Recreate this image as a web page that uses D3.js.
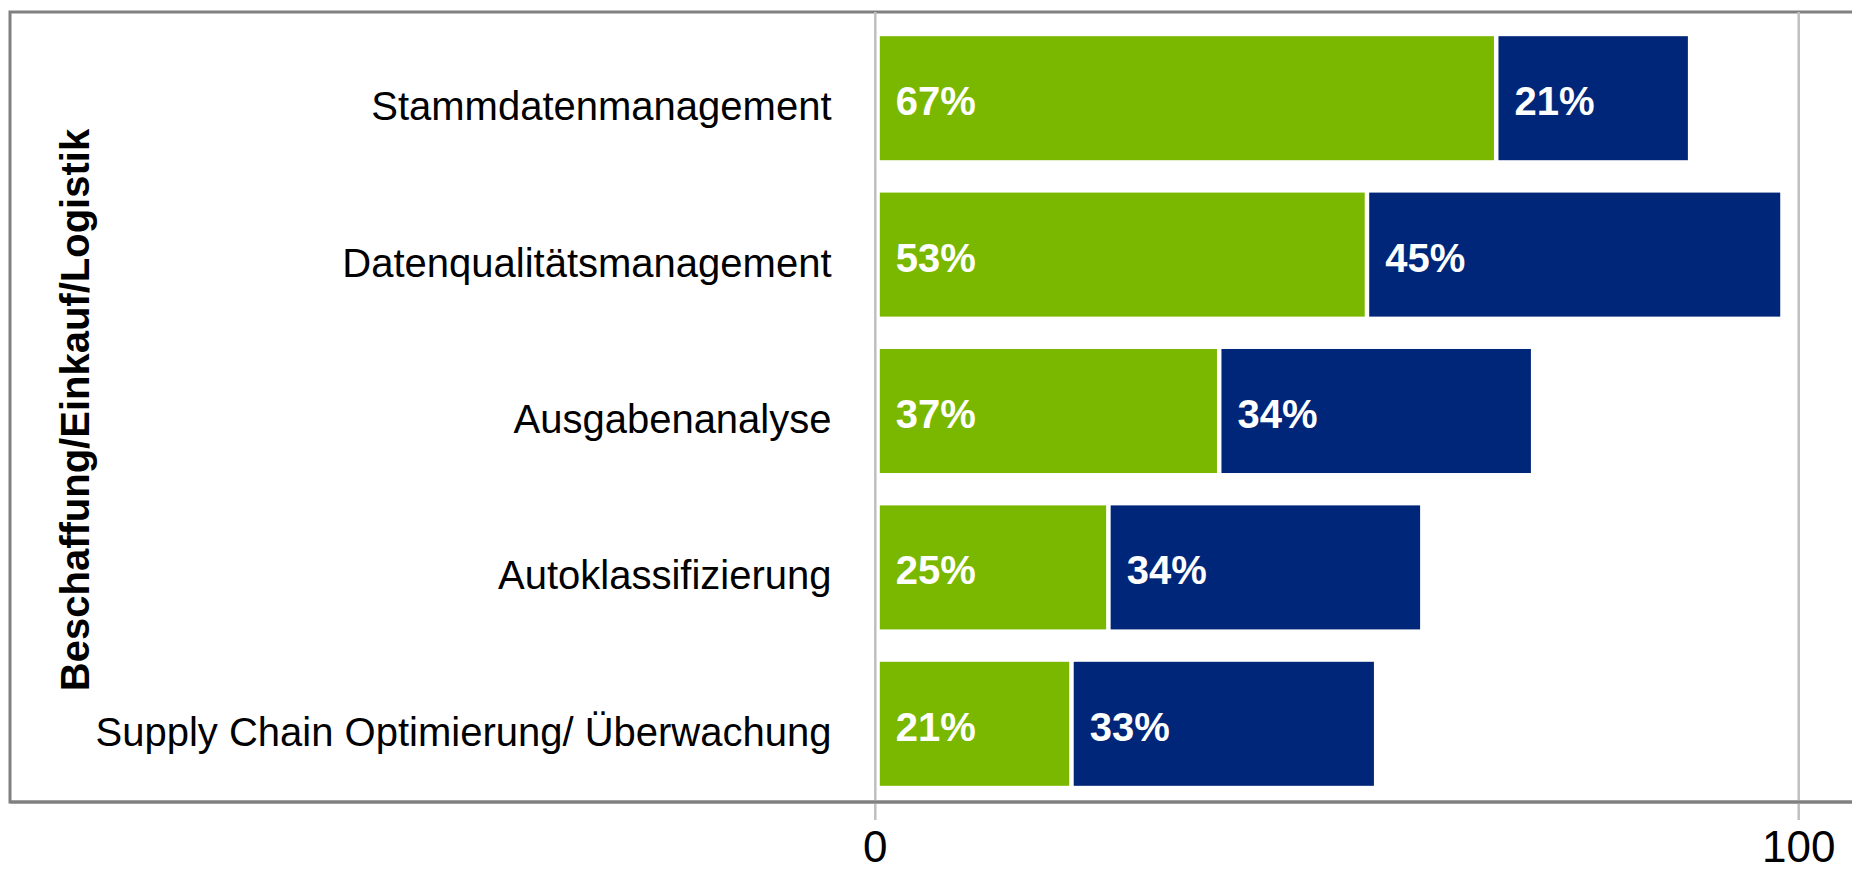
<!DOCTYPE html>
<html>
<head>
<meta charset="utf-8">
<script src="https://cdn.jsdelivr.net/npm/d3@7"></script>
<style>
	html, body { margin: 0; padding: 0; background: #fff; }
	svg { display: block; font-family: "Liberation Sans", Arial, sans-serif; }
</style>
</head>
<body>
<div id="chart"></div>
<script>
// categories, top to bottom
var categories = [
	'Stammdatenmanagement',
	'Datenqualitätsmanagement',
	'Ausgabenanalyse',
	'Autoklassifizierung',
	'Supply Chain Optimierung/ Überwachung'
];
var greenValues = [67, 53, 37, 25, 21];
var blueValues = [21, 45, 34, 34, 33];
var xTicks = [0, 100];
var axisTitle = 'Beschaffung/Einkauf/Logistik';

var W = 1852, H = 873;
var green = '#7ab800', blue = '#00267a';

var svg = d3.select('#chart')
	.append('svg')
	.attr('width', W)
	.attr('height', H);

//////////////////////////////////////////////////
// scales
//////////////////////////////////////////////////
var x = d3.scaleLinear().domain([0, 100]).range([875.3, 1798.7]);
var y = d3.scaleBand()
	.domain(categories)
	.range([20, 802])
	.paddingInner(0.207)
	.paddingOuter(0.1035);

// frame
svg.append('rect')
	.attr('x', 10)
	.attr('y', 12)
	.attr('width', W + 20)
	.attr('height', 790)
	.style('fill', 'none')
	.style('stroke', '#808080')
	.style('stroke-width', 3);

// vertical gridlines + ticks
svg.append('g').selectAll('line')
	.data(xTicks)
	.enter().append('line')
	.attr('x1', function(d) { return x(d); })
	.attr('x2', function(d) { return x(d); })
	.attr('y1', 12)
	.attr('y2', 820)
	.style('stroke', '#bfbfbf')
	.style('stroke-width', 2.5);

// redraw bottom frame edge on top of gridlines
svg.append('line')
	.attr('x1', 10).attr('x2', W)
	.attr('y1', 802).attr('y2', 802)
	.style('stroke', '#808080')
	.style('stroke-width', 3);

// tick labels (kept just inside the bottom edge)
svg.append('g').selectAll('text')
	.data(xTicks)
	.enter().append('text')
	.attr('x', function(d) { return x(d); })
	.attr('y', 862)
	.attr('text-anchor', 'middle')
	.style('font-size', '44px')
	.style('fill', '#000')
	.text(function(d) { return d; });

//////////////////////////////////////////////////
// bars
//////////////////////////////////////////////////
var rows = categories.map(function(c, i) {
	return {cat: c, g: greenValues[i], b: blueValues[i]};
});
var segs = [];
rows.forEach(function(r) {
	segs.push({cat: r.cat, x0: 0, x1: r.g, v: r.g, color: green});
	segs.push({cat: r.cat, x0: r.g, x1: r.g + r.b, v: r.b, color: blue});
});

var inset = 4.5;
var bar = svg.append('g').selectAll('g')
	.data(segs)
	.enter().append('g');

bar.append('rect')
	.attr('x', function(d) { return x(d.x0) + inset; })
	.attr('y', function(d) { return y(d.cat); })
	.attr('width', function(d) { return x(d.x1) - x(d.x0) - inset; })
	.attr('height', y.bandwidth())
	.style('fill', function(d) { return d.color; });

bar.append('text')
	.attr('x', function(d) { return x(d.x0) + inset + 16; })
	.attr('y', function(d) { return y(d.cat) + y.bandwidth() / 2 + 17; })
	.style('font-size', '40px')
	.style('font-weight', 'bold')
	.style('fill', '#fff')
	.text(function(d) { return d.v + '%'; });

// category labels
svg.append('g').selectAll('text')
	.data(categories)
	.enter().append('text')
	.attr('x', 831.5)
	.attr('y', function(d) { return y(d) + y.bandwidth() / 2 + 22; })
	.attr('text-anchor', 'end')
	.style('font-size', '40px')
	.style('fill', '#000')
	.text(function(d) { return d; });

// rotated group title
svg.append('text')
	.attr('transform', 'translate(89,410) rotate(-90)')
	.attr('text-anchor', 'middle')
	.style('font-size', '40px')
	.style('font-weight', 'bold')
	.style('fill', '#000')
	.text(axisTitle);
</script>
</body>
</html>
